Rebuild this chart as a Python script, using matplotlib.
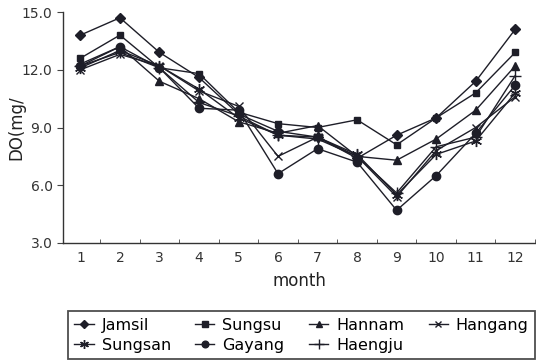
import matplotlib
matplotlib.use("Agg")
import matplotlib.pyplot as plt

months = list(range(1, 13))
month_labels = [str(m) for m in months]

jamsil  = [13.8, 14.7, 12.9, 11.6, 9.7, 8.8, 8.5, 7.4, 8.6, 9.5, 11.4, 14.1]
sungsu  = [12.6, 13.8, 12.1, 11.8, 9.8, 9.2, 9.0, 9.4, 8.1, 9.5, 10.8, 12.9]
hannam  = [12.3, 13.2, 11.4, 10.5, 9.3, 8.7, 9.1, 7.5, 7.3, 8.4, 9.9, 12.2]
sungsan = [12.1, 13.0, 12.2, 11.0, 9.5, 8.6, 8.5, 7.6, 5.5, 7.6, 8.3, 10.8]
gayang  = [12.2, 13.2, 12.1, 10.0, 9.9, 6.6, 7.9, 7.2, 4.7, 6.5, 8.7, 11.2]
haengju = [12.2, 12.9, 12.1, 10.3, 9.6, 8.6, 8.4, 7.5, 5.6, 8.0, 8.5, 11.7]
hangang = [12.0, 12.8, 12.2, 10.9, 10.1, 7.5, 8.5, 7.5, 5.4, 7.8, 9.0, 10.6]

series = [
    ("Jamsil", jamsil, "D", 5),
    ("Sungsan", sungsan, (6, 2, 0), 8),
    ("Sungsu", sungsu, "s", 5),
    ("Gayang", gayang, "o", 6),
    ("Hannam", hannam, "^", 6),
    ("Haengju", haengju, "+", 9),
    ("Hangang", hangang, "x", 6),
]

fig = plt.figure(figsize=(5.36, 3.62), dpi=100)
ax = fig.add_axes([63/536, 1-243/362, (535-63)/536, (243-12)/362])

col = "#1e1e28"
for name, vals, mk, ms in series:
    ax.plot(months, vals, color=col, lw=1.0, marker=mk, ms=ms,
            mew=1.0, label=name)

ax.set_xlim(0.56, 12.38)
ax.set_ylim(3.0, 15.0)
ax.set_yticks([3, 6, 9, 12, 15])
ax.set_yticklabels(["3.0", "6.0", "9.0", "12.0", "15.0"], fontsize=10, color="#333")
ax.set_xticks(months)
ax.set_xticklabels(month_labels, fontsize=10, color="#333")
ax.set_xticks([m + 0.5 for m in months], minor=True)
ax.tick_params(axis="x", which="major", length=0, pad=6)
ax.tick_params(axis="x", which="minor", direction="in", length=3, color="#444")
ax.tick_params(axis="y", direction="out", length=4, color="#444")
for s in ["top", "right"]:
    ax.spines[s].set_visible(False)
for s in ["left", "bottom"]:
    ax.spines[s].set_color("#333")
    ax.spines[s].set_linewidth(1.0)

ax.set_xlabel("month", fontsize=12, color="#222", labelpad=5)
ax.set_ylabel("DO(mg/", fontsize=12, color="#222")
ax.yaxis.set_label_coords(-0.08, 0.5)

leg = fig.legend(loc="lower left", bbox_to_anchor=(68/536, 3/362, 467/536, 52/362),
                 mode="expand", ncol=4, fontsize=11.5, frameon=True, fancybox=False,
                 shadow=False, handlelength=1.2, handletextpad=0.5,
                 columnspacing=1.0, borderpad=0.4, labelspacing=0.3,
                 borderaxespad=0, edgecolor="#222", markerscale=0.8)
leg.get_frame().set_linewidth(1.3)

fig.savefig("out.png", dpi=100)
